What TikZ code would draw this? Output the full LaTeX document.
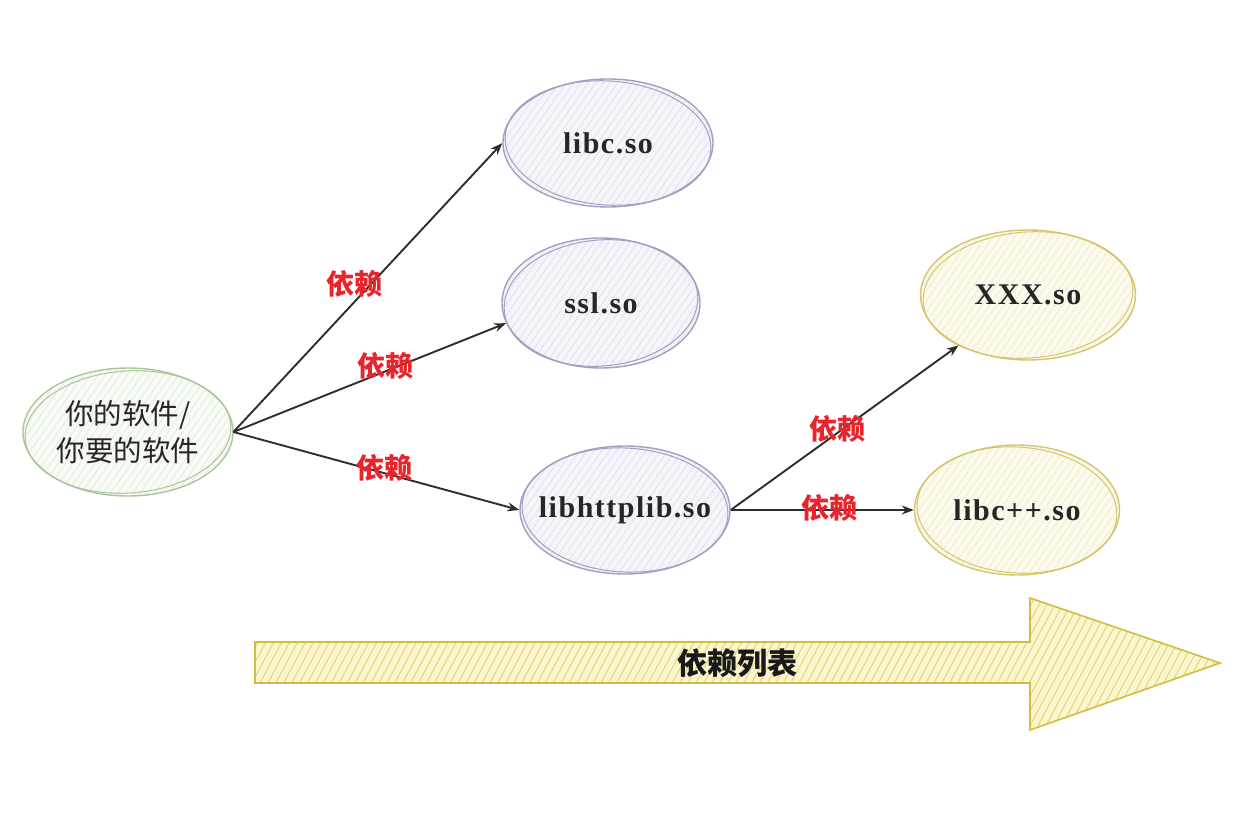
\documentclass[tikz,border=0pt]{standalone}
\usepackage{fontspec}
\setmainfont{Liberation Serif}
\newfontfamily\cjk{Noto Sans CJK SC}
\newfontfamily\libfont[LetterSpace=5]{Liberation Serif}
\usetikzlibrary{shapes.geometric,arrows.meta,patterns.meta}
\definecolor{grnline}{HTML}{A9C79A}
\definecolor{grnfill}{HTML}{F7FAF5}
\definecolor{grnhatch}{HTML}{E3EDDC}
\definecolor{purline}{HTML}{A79DC2}
\definecolor{purfill}{HTML}{F5F4F9}
\definecolor{purhatch}{HTML}{E3E0EE}
\definecolor{yelline}{HTML}{D6C46E}
\definecolor{yelfill}{HTML}{FCFAEC}
\definecolor{yelhatch}{HTML}{F2ECCB}
\definecolor{arrline}{HTML}{D0BD42}
\definecolor{arrfill}{HTML}{FBF6D2}
\definecolor{arrhatch}{HTML}{EADB82}
\definecolor{lblred}{HTML}{E8242C}
\definecolor{edgecol}{HTML}{2E2E2E}
\newcommand{\nb}[1]{\makebox[0pt][c]{#1}}
\begin{document}
\begin{tikzpicture}[x=1pt,y=-1pt,
  blob/.style={ellipse, inner sep=0pt, minimum width=210pt, minimum height=128pt,
    line width=1.4pt, font=\libfont\fontsize{30}{34}\selectfont\bfseries, text=black!85},
  grn/.style={blob, draw=grnline, preaction={fill=grnfill},
    pattern={Lines[angle=55,distance=6pt,line width=0.8pt]}, pattern color=grnhatch,
    font=\cjk\fontsize{28.5}{37}\selectfont, align=center},
  pur/.style={blob, draw=purline, preaction={fill=purfill},
    pattern={Lines[angle=55,distance=6pt,line width=0.8pt]}, pattern color=purhatch},
  yel/.style={blob, draw=yelline, preaction={fill=yelfill},
    pattern={Lines[angle=55,distance=6pt,line width=0.8pt]}, pattern color=yelhatch},
  sketch/.style={line width=1pt},
  edge/.style={draw=edgecol, line width=1.9pt, -{Stealth[length=12pt,width=9pt]}},
  lbl/.style={inner sep=1pt, text=lblred, font=\cjk\bfseries\fontsize{28}{30}\selectfont},
  bigarrow/.style={draw=arrline, line width=1.6pt, preaction={fill=arrfill},
    pattern={Lines[angle=62,distance=7pt,line width=1.3pt]}, pattern color=arrhatch},
]
\useasboundingbox (0,0) rectangle (1252,829);

\node[grn] (me) at (128,432) {你的软件/\\你要的软件};
\node[pur] (libc) at (608,143) {\nb{libc.so}};
\node[pur, minimum width=198pt, minimum height=130pt] (ssl) at (601,303) {\nb{ssl.so}};
\node[pur] (http) at (625,510) {\nb{libhttplib.so}};
\node[yel, minimum width=215pt, minimum height=130pt] (xxx) at (1028,295) {\nb{XXX.so}};
\node[yel, minimum width=205pt, minimum height=130pt] (cpp) at (1017,510) {\nb{libc++.so}};

% second sketchy outlines
\draw[sketch, draw=grnline, rotate around={4:(me.center)}] (me.center) ellipse [x radius=103pt, y radius=61pt];
\draw[sketch, draw=purline, rotate around={-4:(libc.center)}] (libc.center) ellipse [x radius=103pt, y radius=62pt];
\draw[sketch, draw=purline, rotate around={5:(ssl.center)}] (ssl.center) ellipse [x radius=97pt, y radius=63pt];
\draw[sketch, draw=purline, rotate around={-3:(http.center)}] (http.center) ellipse [x radius=103pt, y radius=62pt];
\draw[sketch, draw=yelline, rotate around={4:(xxx.center)}] (xxx.center) ellipse [x radius=105pt, y radius=63pt];
\draw[sketch, draw=yelline, rotate around={-4:(cpp.center)}] (cpp.center) ellipse [x radius=100pt, y radius=63pt];

\draw[edge] (me.east) -- (libc.west) node[lbl, pos=0.5, xshift=-13pt, yshift=4pt] {依赖};
\draw[edge] (me.east) -- (ssl.192) node[lbl, pos=0.556, yshift=6pt] {依赖};
\draw[edge] (me.east) -- (http.west) node[lbl, pos=0.53, yshift=5pt] {依赖};
\draw[edge] (http.east) -- (xxx.216) node[lbl, pos=0.47, yshift=4pt] {依赖};
\draw[edge] (http.east) -- (cpp.west) node[lbl, pos=0.54, yshift=2pt] {依赖};

\draw[bigarrow] (255,642) -- (1030,642) -- (1030,598) -- (1220,663) -- (1030,730) -- (1030,683) -- (255,683) -- cycle;
\node[font=\cjk\bfseries\fontsize{30}{34}\selectfont, text=black!90] (lst) at (737,663) {依赖列表};
\end{tikzpicture}
\end{document}
